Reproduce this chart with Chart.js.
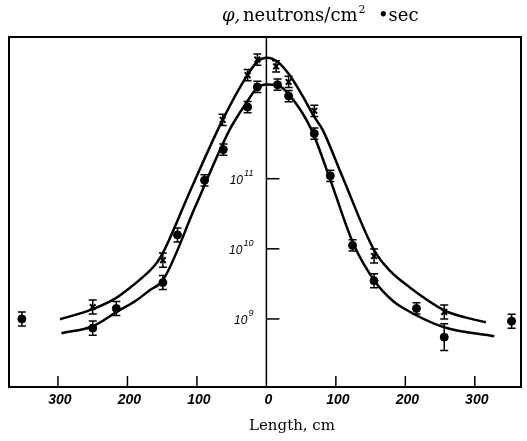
<!DOCTYPE html>
<html>
<head>
<meta charset="utf-8">
<script src="https://cdn.jsdelivr.net/npm/chart.js@4"></script>
<style>
  body { margin: 0; background: #fff; }
  canvas { display: block; }
</style>
</head>
<body>
<canvas id="chartFlux" width="527" height="441"></canvas>
<script>
// tick labels
var xTicks = [-300, -200, -100, 0, 100, 200, 300];
var yTicks = [1e9, 1e10, 1e11];
var yTickExp = ['9', '10', '11'];

// smooth curves (length cm / flux)
var upperCurveX = [-297, -250, -216, -197, -178, -158, -147, -111, -63, -29, -13, 1, 16, 33, 52, 69, 81, 109, 155, 177, 206, 256, 285, 316];
var upperCurveY = [9.9e8, 1.38e9, 2.0e9, 2.75e9, 3.94e9, 6.3e9, 9.6e9, 6.25e10, 6.9e11, 2.84e12, 4.65e12, 5.3e12, 4.65e12, 3.03e12, 1.52e12, 7.6e11, 4.97e11, 1.09e11, 9.6e9, 4.97e9, 2.84e9, 1.33e9, 1.06e9, 8.97e8];
var lowerCurveX = [-295, -250, -216, -187, -168, -149, -102, -53, -29, -13, 1, 16, 33, 65, 93, 126, 157, 181, 195, 256, 328];
var lowerCurveY = [6.25e8, 7.87e8, 1.25e9, 1.85e9, 2.57e9, 3.57e9, 4.07e10, 4.97e11, 1.2e12, 1.98e12, 2.2e12, 2.15e12, 1.57e12, 4.97e11, 9.0e10, 1.13e10, 3.34e9, 1.85e9, 1.47e9, 7.6e8, 5.66e8];

// measured points, error half-width in decades
var crossX = [-250, -149, -63, -27, -13, 14, 32, 69, 155, 256];
var crossY = [1.48e9, 6.9e9, 6.9e11, 3.0e12, 5.0e12, 4.0e12, 2.4e12, 9.3e11, 7.9e9, 1.26e9];
var crossErr = [0.1, 0.1, 0.08, 0.08, 0.08, 0.08, 0.08, 0.08, 0.1, 0.1];
var circleX = [-352, -250, -216, -149, -128, -89, -62, -27, -13, 16, 32, 69, 92, 124, 155, 216, 256, 353];
var circleY = [1.0e9, 7.4e8, 1.41e9, 3.3e9, 1.58e10, 9.5e10, 2.6e11, 1.05e12, 2.04e12, 2.19e12, 1.51e12, 4.4e11, 1.1e11, 1.12e10, 3.5e9, 1.41e9, 5.5e8, 9.3e8];
var circleErr = [0.1, 0.1, 0.1, 0.1, 0.1, 0.08, 0.08, 0.08, 0.08, 0.08, 0.08, 0.08, 0.08, 0.08, 0.1, 0.08, 0.19, 0.1];

function toPoints(xs, ys) {
    return xs.map(function (x, i) { return { x: x, y: ys[i] }; });
}

var serif = '"DejaVu Serif", "Liberation Serif", serif';
var sans = '"Liberation Sans", Arial, sans-serif';

// frame, axis line, ticks, error bars and texts
var decorPlugin = {
    id: 'decor',
    beforeDatasetsDraw: function (chart) {
        var ctx = chart.ctx, a = chart.chartArea;
        var xs = chart.scales.x, ys = chart.scales.y;
        ctx.save();
        ctx.strokeStyle = '#000';
        ctx.fillStyle = '#000';
        ctx.lineWidth = 2;
        ctx.strokeRect(a.left, a.top, a.right - a.left, a.bottom - a.top);

        var x0 = xs.getPixelForValue(0);
        ctx.lineWidth = 1.5;
        ctx.beginPath();
        ctx.moveTo(x0, a.top);
        ctx.lineTo(x0, a.bottom);
        ctx.stroke();

        // x ticks (inside, from the bottom)
        ctx.font = 'italic bold 14px ' + sans;
        ctx.textAlign = 'center';
        ctx.textBaseline = 'middle';
        xTicks.forEach(function (v) {
            var px = xs.getPixelForValue(v);
            if (v !== 0) {
                ctx.beginPath();
                ctx.moveTo(px, a.bottom);
                ctx.lineTo(px, a.bottom - 11);
                ctx.stroke();
            }
            ctx.fillText(String(Math.abs(v)), px + 2, a.bottom + 13);
        });

        // y ticks on the centre line
        yTicks.forEach(function (v, i) {
            var py = ys.getPixelForValue(v);
            ctx.beginPath();
            ctx.moveTo(x0, py);
            ctx.lineTo(x0 + 13, py);
            ctx.stroke();
            ctx.textAlign = 'left';
            ctx.textBaseline = 'alphabetic';
            ctx.font = 'italic 9px ' + sans;
            var ew = ctx.measureText(yTickExp[i]).width;
            ctx.font = 'italic 12px ' + sans;
            var bw = ctx.measureText('10').width;
            var right = x0 - 13;
            ctx.fillText('10', right - ew - bw - 1, py + 5);
            ctx.font = 'italic 9px ' + sans;
            ctx.fillText(yTickExp[i], right - ew, py - 3);
        });

        // title
        ctx.textBaseline = 'alphabetic';
        ctx.textAlign = 'left';
        var ty = 21;
        ctx.font = 'italic 18px ' + serif;
        ctx.fillText('\u03c6,', 222, ty);
        ctx.font = '18px ' + serif;
        ctx.fillText('neutrons/cm', 243, ty);
        var tx = 243 + ctx.measureText('neutrons/cm').width + 1;
        ctx.font = '11px ' + serif;
        ctx.fillText('2', tx, ty - 8);
        ctx.font = '18px ' + serif;
        ctx.fillText('\u2022sec', 378, ty);

        ctx.font = '15px ' + serif;
        ctx.textAlign = 'center';
        ctx.fillText('Length, cm', 292, 430);

        // error bars
        ctx.lineWidth = 1.5;
        [[2, crossErr], [3, circleErr]].forEach(function (d) {
            var data = chart.data.datasets[d[0]].data;
            data.forEach(function (p, i) {
                var px = xs.getPixelForValue(p.x);
                var hi = ys.getPixelForValue(p.y * Math.pow(10, d[1][i]));
                var lo = ys.getPixelForValue(p.y / Math.pow(10, d[1][i]));
                ctx.beginPath();
                ctx.moveTo(px, hi); ctx.lineTo(px, lo);
                ctx.moveTo(px - 4, hi); ctx.lineTo(px + 4, hi);
                ctx.moveTo(px - 4, lo); ctx.lineTo(px + 4, lo);
                ctx.stroke();
            });
        });
        ctx.restore();
    }
};

var ctx = document.getElementById('chartFlux').getContext('2d');

var graph = new Chart(ctx, {
    type: 'scatter',
    data: {
        datasets: [
            {
                label: 'upper curve',
                data: toPoints(upperCurveX, upperCurveY),
                showLine: true,
                borderColor: '#000',
                borderWidth: 2.5,
                pointRadius: 0,
                cubicInterpolationMode: 'monotone'
            },
            {
                label: 'lower curve',
                data: toPoints(lowerCurveX, lowerCurveY),
                showLine: true,
                borderColor: '#000',
                borderWidth: 2.5,
                pointRadius: 0,
                cubicInterpolationMode: 'monotone'
            },
            {
                label: 'crosses',
                data: toPoints(crossX, crossY),
                pointStyle: 'crossRot',
                pointRadius: 4,
                borderColor: '#000',
                borderWidth: 2
            },
            {
                label: 'circles',
                data: toPoints(circleX, circleY),
                pointStyle: 'circle',
                pointRadius: 4,
                backgroundColor: '#000',
                borderColor: '#000',
                borderWidth: 1
            }
        ]
    },
    options: {
        responsive: false,
        animation: false,
        layout: { padding: { left: 9, right: 5, top: 37, bottom: 54 } },
        plugins: {
            legend: { display: false },
            title: { display: false },
            tooltip: { enabled: false }
        },
        scales: {
            x: { type: 'linear', min: -370.5, max: 366.5, display: false },
            y: { type: 'logarithmic', min: 1.07e8, max: 1.05e13, display: false }
        }
    },
    plugins: [decorPlugin]
});
</script>
</body>
</html>
